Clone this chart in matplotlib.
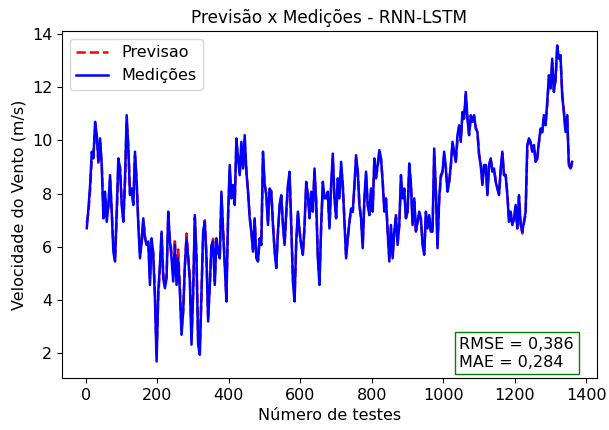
import numpy as np
import matplotlib
matplotlib.use("Agg")
import matplotlib.pyplot as plt

medicoes = [
    6.7, 7.44, 8.32, 9.57, 9.32, 10.69, 10.19, 9.2, 10.07, 9.07,
    7.07, 8.07, 6.94, 7.57, 8.69, 7.32, 5.82, 5.45, 7.32, 9.32,
    8.94, 7.57, 6.94, 8.57, 10.94, 9.69, 7.94, 8.19, 7.57, 9.57,
    8.44, 6.82, 5.57, 6.2, 7.07, 6.32, 6.07, 6.2, 4.57, 6.32,
    5.7, 4.07, 1.7, 4.32, 5.32, 6.57, 4.82, 4.45, 4.82, 7.32,
    6.2, 5.57, 4.7, 6.07, 4.57, 5.57, 4.32, 2.7, 3.57, 5.32,
    6.32, 5.57, 4.7, 2.33, 4.32, 7.19, 5.57, 2.33, 1.95, 4.32,
    6.57, 6.94, 5.57, 3.2, 4.57, 6.07, 6.2, 4.57, 6.32, 5.82,
    5.57, 8.07, 6.57, 5.32, 3.95, 7.19, 9.07, 7.82, 8.32, 7.57,
    10.07, 9.32, 8.69, 9.94, 8.94, 10.19, 8.82, 8.07, 7.07,
    6.57, 5.82, 7.07, 5.57, 5.45, 6.32, 6.07, 9.57, 8.32, 7.94,
    6.82, 8.19, 8.07, 6.82, 5.82, 5.2, 6.57, 7.57, 7.94, 6.82,
    6.07, 7.32, 8.32, 8.82, 6.82, 4.7, 3.95, 6.2, 7.32, 6.57,
    6.07, 5.7, 6.82, 8.44, 7.94, 7.07, 8.07, 7.32, 8.94, 7.69,
    5.57, 4.57, 6.82, 8.44, 7.82, 7.82, 8.07, 6.69, 8.32, 9.5,
    7.82,
    7.07, 8.57, 7.82, 9.19, 8.32, 6.94, 5.57, 6.32, 6.94, 7.44,
    7.32, 8.32, 9.44, 8.82, 7.57, 7.07, 5.95, 7.82, 8.82, 7.57,
    7.19, 8.19, 7.32, 9.32, 8.57, 9.07, 9.63, 9.32, 8.44, 7.32,
    7.82, 6.57, 5.45, 6.82, 5.57, 6.57, 7.19, 6.07, 6.82, 8.69,
    7.82, 8.19, 7.07, 7.32, 9.13, 8.32, 6.82, 7.82, 6.57, 6.94,
    7.32,
    7.07, 6.07, 5.7, 7.32, 6.69, 7.19, 6.57, 6.57, 9.69, 8.07,
    5.95, 7.82, 8.69, 8.82, 9.57, 8.94, 8.07, 8.44, 9.07, 9.94,
    9.57, 9.19, 10.19, 10.56, 9.94, 11.06, 10.81, 11.81, 10.81, 10.19,
    10.94, 10.69, 10.94, 10.44, 10.31, 9.44, 9.07, 8.32, 9.07, 9.07,
    7.94, 9.07, 9.32, 8.82, 8.94, 8.44, 8.19, 7.94, 8.94, 9.57,
    8.69,
    8.69, 7.94, 6.94, 7.32, 6.82, 7.07, 7.57, 6.69, 7.94, 6.82,
    6.57, 6.94, 7.32, 9.82, 10.07, 9.94, 9.57, 9.82, 9.19, 9.32,
    9.94, 10.44, 10.31, 10.94, 10.56, 11.44, 12.44, 11.94, 13.06, 11.81,
    12.31, 13.56, 13.06, 13.19, 11.69, 11.06, 10.31, 10.94, 9.07, 8.94,
    9.19,
]

# Previsão do modelo RNN-LSTM
previsao = [
    6.9, 7.3, 8.1, 9.3, 9.4, 10.4, 10.2, 9.1, 9.9, 9.1,
    7.3, 7.9, 7.1, 7.5, 8.5, 7.4, 6.0, 5.6, 7.1, 9.1,
    9.0, 7.7, 7.0, 8.4, 10.7, 9.8, 8.0, 8.1, 7.6, 9.4,
    8.5, 6.9, 5.8, 6.1, 7.0, 6.4, 6.1, 6.2, 4.8, 6.2,
    5.8, 4.3, 2.0, 4.1, 5.2, 6.5, 5.0, 4.6, 4.9, 7.1,
    6.3, 5.8, 5.0, 6.3, 4.8, 5.9, 4.5, 2.9, 3.6, 5.2,
    6.5, 5.7, 4.9, 2.6, 4.2, 7.1, 5.7, 2.5, 2.1, 4.2,
    6.4, 7.0, 5.7, 3.4, 4.5, 6.0, 6.3, 4.7, 6.2, 5.9,
    5.6, 7.9, 6.7, 5.4, 4.1, 7.0, 8.9, 7.9, 8.2, 7.6,
    9.9, 9.4, 8.8, 9.8, 9.0, 10.0, 8.9, 8.1, 7.2,
    6.6, 5.9, 7.0, 5.7, 5.5, 6.3, 6.1, 9.3, 8.4, 8.0,
    6.9, 8.1, 8.1, 6.9, 5.9, 5.3, 6.5, 7.5, 7.9, 6.9,
    6.1, 7.2, 8.2, 8.7, 6.9, 4.9, 4.1, 6.1, 7.3, 6.6,
    6.1, 5.8, 6.7, 8.3, 8.0, 7.1, 8.0, 7.4, 8.8, 7.7,
    5.7, 4.7, 6.7, 8.3, 7.9, 7.8, 8.0, 6.8, 8.2, 9.3,
    7.9,
    7.1, 8.4, 7.9, 9.0, 8.4, 7.0, 5.7, 6.3, 6.9, 7.4,
    7.3, 8.2, 9.3, 8.9, 7.6, 7.1, 6.1, 7.7, 8.7, 7.6,
    7.2, 8.1, 7.4, 9.2, 8.6, 9.0, 9.5, 9.3, 8.5, 7.4,
    7.8, 6.6, 5.6, 6.7, 5.7, 6.5, 7.1, 6.2, 6.8, 8.5,
    7.9, 8.1, 7.1, 7.3, 9.0, 8.4, 6.9, 7.7, 6.6, 6.9,
    7.3,
    7.0, 6.2, 5.8, 7.2, 6.7, 7.1, 6.6, 6.6, 9.4, 8.2,
    6.1, 7.7, 8.6, 8.8, 9.4, 9.0, 8.1, 8.4, 9.0, 9.8,
    9.6, 9.2, 10.0, 10.5, 10.0, 10.9, 10.8, 11.7, 10.9, 10.2,
    10.8, 10.7, 10.9, 10.5, 10.3, 9.5, 9.1, 8.4, 9.0, 9.1,
    8.0, 9.0, 9.3, 8.9, 8.9, 8.5, 8.2, 8.0, 8.8, 9.5,
    8.7,
    8.7, 8.0, 7.0, 7.3, 6.9, 7.0, 7.5, 6.7, 7.9, 6.9,
    6.5, 6.9, 7.2, 9.6, 10.0, 9.9, 9.6, 9.8, 9.2, 9.3,
    9.9, 10.3, 10.3, 10.8, 10.6, 11.3, 12.3, 12.0, 12.9, 11.9,
    12.2, 13.4, 13.1, 13.1, 11.8, 11.1, 10.4, 10.9, 9.2, 8.9,
    9.1,
]

# índice do teste de cada amostra
testes = np.linspace(3, 1361, len(medicoes))

plt.rcParams['font.size'] = 11.5

fig = plt.figure(figsize=(6.09, 4.30), dpi=100)
ax = fig.add_axes([0.102, 0.121, 0.878, 0.807])

ax.plot(testes, previsao, 'r--', linewidth=1.8, label='Previsao')
ax.plot(testes, medicoes, color='blue', linewidth=1.8, label='Medições')

ax.set_title("Previsão x Medições - RNN-LSTM", fontsize=12.2)
ax.set_xlabel("Número de testes")
ax.set_ylabel("Velocidade do Vento (m/s)")
ax.set_xticks(np.arange(0, 1401, 200))
ax.set_yticks(np.arange(2, 15, 2))
ax.set_xlim(-66, 1430)
ax.set_ylim(1.08, 14.1)
ax.legend(loc='upper left')

ax.text(0.743, 0.024, "RMSE = 0,386\nMAE = 0,284", transform=ax.transAxes,
        ha='left', va='bottom', fontsize=11.5,
        bbox=dict(boxstyle='square,pad=0.3', facecolor='white', edgecolor='green'))

plt.savefig("out.png", dpi=100)
